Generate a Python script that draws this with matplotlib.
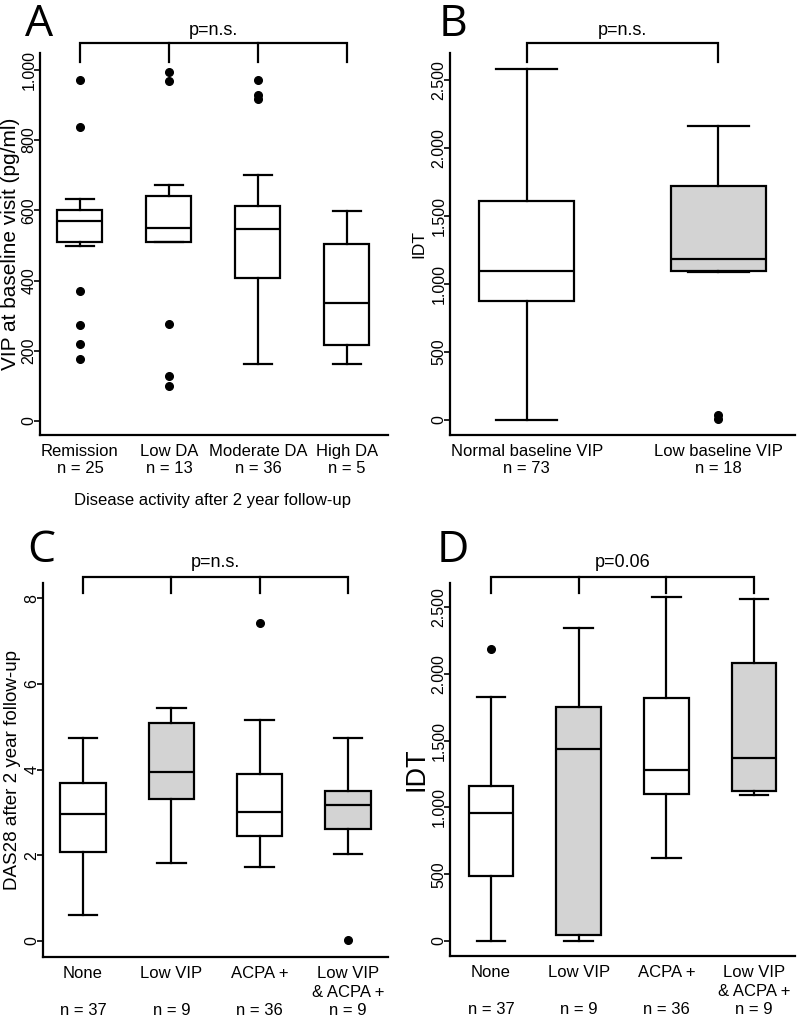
import matplotlib
matplotlib.use("Agg")
import matplotlib.pyplot as plt

plt.rcParams['font.family'] = ['Liberation Sans', 'DejaVu Sans']

# ---------------- Panel A ----------------
a_labels = ["Remission\nn = 25", "Low DA\nn = 13", "Moderate DA\nn = 36", "High DA\nn = 5"]
a_whislo = [497, 511, 163, 163]
a_q1 = [509, 511, 406, 217]
a_med = [569, 549, 546, 337]
a_q3 = [600, 640, 611, 503]
a_whishi = [631, 671, 700, 597]
a_fliers = [[971, 837, 371, 274, 220, 177], [994, 969, 277, 129, 100], [971, 929, 917], []]
a_yticks = [0, 200, 400, 600, 800, 1000]
a_yticklabels = ["0", "200", "400", "600", "800", "1.000"]
a_ylabel = "VIP at baseline visit (pg/ml)"
a_xlabel = "Disease activity after 2 year follow-up"
a_p = "p=n.s."

# ---------------- Panel B ----------------
b_labels = ["Normal baseline VIP\nn = 73", "Low baseline VIP\nn = 18"]
b_whislo = [0, 1092]
b_q1 = [875, 1096]
b_med = [1096, 1184]
b_q3 = [1610, 1721]
b_whishi = [2581, 2162]
b_fliers = [[], [5, 40]]
b_yticks = [0, 500, 1000, 1500, 2000, 2500]
b_yticklabels = ["0", "500", "1.000", "1.500", "2.000", "2.500"]
b_ylabel = "IDT"
b_p = "p=n.s."

# ---------------- Panel C ----------------
c_labels = ["None\n\nn = 37", "Low VIP\n\nn = 9", "ACPA +\n\nn = 36", "Low VIP\n& ACPA +\nn = 9"]
c_whislo = [0.61, 1.82, 1.72, 2.03]
c_q1 = [2.07, 3.31, 2.45, 2.61]
c_med = [2.96, 3.94, 3.01, 3.17]
c_q3 = [3.68, 5.08, 3.89, 3.50]
c_whishi = [4.73, 5.43, 5.15, 4.73]
c_fliers = [[], [], [7.41], [0.02]]
c_yticks = [0, 2, 4, 6, 8]
c_yticklabels = ["0", "2", "4", "6", "8"]
c_ylabel = "DAS28 after 2 year follow-up"
c_p = "p=n.s."

# ---------------- Panel D ----------------
d_labels = ["None\n\nn = 37", "Low VIP\n\nn = 9", "ACPA +\n\nn = 36", "Low VIP\n& ACPA +\nn = 9"]
d_whislo = [0, 0, 621, 1093]
d_q1 = [487, 45, 1100, 1123]
d_med = [958, 1437, 1280, 1370]
d_q3 = [1160, 1752, 1819, 2081]
d_whishi = [1826, 2343, 2575, 2560]
d_fliers = [[2186], [], [], []]
d_yticks = [0, 500, 1000, 1500, 2000, 2500]
d_yticklabels = ["0", "500", "1.000", "1.500", "2.000", "2.500"]
d_ylabel = "IDT"
d_p = "p=0.06"

GRAY = "#d3d3d3"
LW = 1.6

fig = plt.figure(figsize=(8, 10.34), dpi=100)


def panel(rect, labels, whislo, q1, med, q3, whishi, fliers, fills, xlim, ylim,
          yticks, yticklabels, ylabel, ylabel_size, ylabel_x, ptext,
          br_top, br_bot, p_y, linespacing, width):
    ax = fig.add_axes(rect)
    stats = [dict(med=m, q1=a, q3=b, whislo=lo, whishi=hi, fliers=f)
             for lo, a, m, b, hi, f in zip(whislo, q1, med, q3, whishi, fliers)]
    pos = list(range(1, len(stats) + 1))
    bp = ax.bxp(stats, positions=pos, widths=width, capwidths=width * 0.64,
                patch_artist=True, showfliers=True,
                boxprops=dict(edgecolor='black', linewidth=LW),
                medianprops=dict(color='black', linewidth=LW),
                whiskerprops=dict(color='black', linewidth=LW),
                capprops=dict(color='black', linewidth=LW),
                flierprops=dict(marker='o', markerfacecolor='black',
                                markeredgecolor='black', markersize=5.5))
    for patch, fc in zip(bp['boxes'], fills):
        patch.set_facecolor(fc)
    ax.set_xlim(*xlim)
    ax.set_ylim(*ylim)
    for s in ['top', 'right']:
        ax.spines[s].set_visible(False)
    for s in ['left', 'bottom']:
        ax.spines[s].set_linewidth(LW)
    ax.set_yticks(yticks, yticklabels, rotation=90, va='center', fontsize=11.5)
    ax.set_xticks(pos, labels, fontsize=12, linespacing=linespacing, va='top')
    ax.tick_params(axis='x', length=0, pad=6.5)
    ax.tick_params(axis='y', length=4, width=1.2, pad=-1.5)
    ax.set_ylabel(ylabel, fontsize=ylabel_size)
    ax.yaxis.set_label_coords(ylabel_x, 0.5)
    # bracket
    tr = ax.get_xaxis_transform()
    ax.plot([pos[0], pos[0], pos[-1], pos[-1]], [br_bot, br_top, br_top, br_bot],
            color='black', lw=LW, transform=tr, clip_on=False, solid_joinstyle='miter')
    for p in pos[1:-1]:
        ax.plot([p, p], [br_top, br_bot], color='black', lw=LW, transform=tr, clip_on=False)
    ax.text((pos[0] + pos[-1]) / 2, p_y, ptext, transform=tr, ha='center', va='center',
            fontsize=13)
    return ax


H = 1034.0
axA = panel([40 / 800, 1 - 435 / H, 348 / 800, 382 / H], a_labels, a_whislo, a_q1, a_med,
            a_q3, a_whishi, a_fliers, ['white'] * 4, (0.551, 4.461), (-40, 1048),
            a_yticks, a_yticklabels, a_ylabel, 15, -0.058, a_p, 1.026, 0.976, 1.060, 1.2, 0.505)
axB = panel([450 / 800, 1 - 435 / H, 345 / 800, 382 / H], b_labels, b_whislo, b_q1, b_med,
            b_q3, b_whishi, b_fliers, ['white', GRAY], (0.6, 2.4), (-110, 2699),
            b_yticks, b_yticklabels, b_ylabel, 12.5, -0.068, b_p, 1.026, 0.976, 1.060, 1.2, 0.495)
axC = panel([43 / 800, 1 - 957 / H, 345 / 800, 374 / H], c_labels, c_whislo, c_q1, c_med,
            c_q3, c_whishi, c_fliers, ['white', GRAY, 'white', GRAY], (0.547, 4.453),
            (-0.373, 8.35), c_yticks, c_yticklabels, c_ylabel, 13.5, -0.064, c_p,
            1.016, 0.973, 1.056, 1.3, 0.51)
axD = panel([450 / 800, 1 - 956 / H, 345 / 800, 373 / H], d_labels, d_whislo, d_q1, d_med,
            d_q3, d_whishi, d_fliers, ['white', GRAY, 'white', GRAY], (0.532, 4.468),
            (-112, 2680), d_yticks, d_yticklabels, d_ylabel, 19.5, -0.060, d_p,
            1.016, 0.973, 1.056, 1.3, 0.51)

fig.text(212 / 800, 1 - 500 / H, a_xlabel, ha='center', va='center', fontsize=12)

for letter, x, yb in [("A", 25, 36), ("B", 439, 36), ("C", 27, 562), ("D", 437, 562)]:
    fig.text(x / 800, 1 - yb / H, letter, fontsize=32, family=['Open Sans', 'DejaVu Sans'],
             ha='left', va='baseline')

fig.savefig("out.png", dpi=100, facecolor='white')
